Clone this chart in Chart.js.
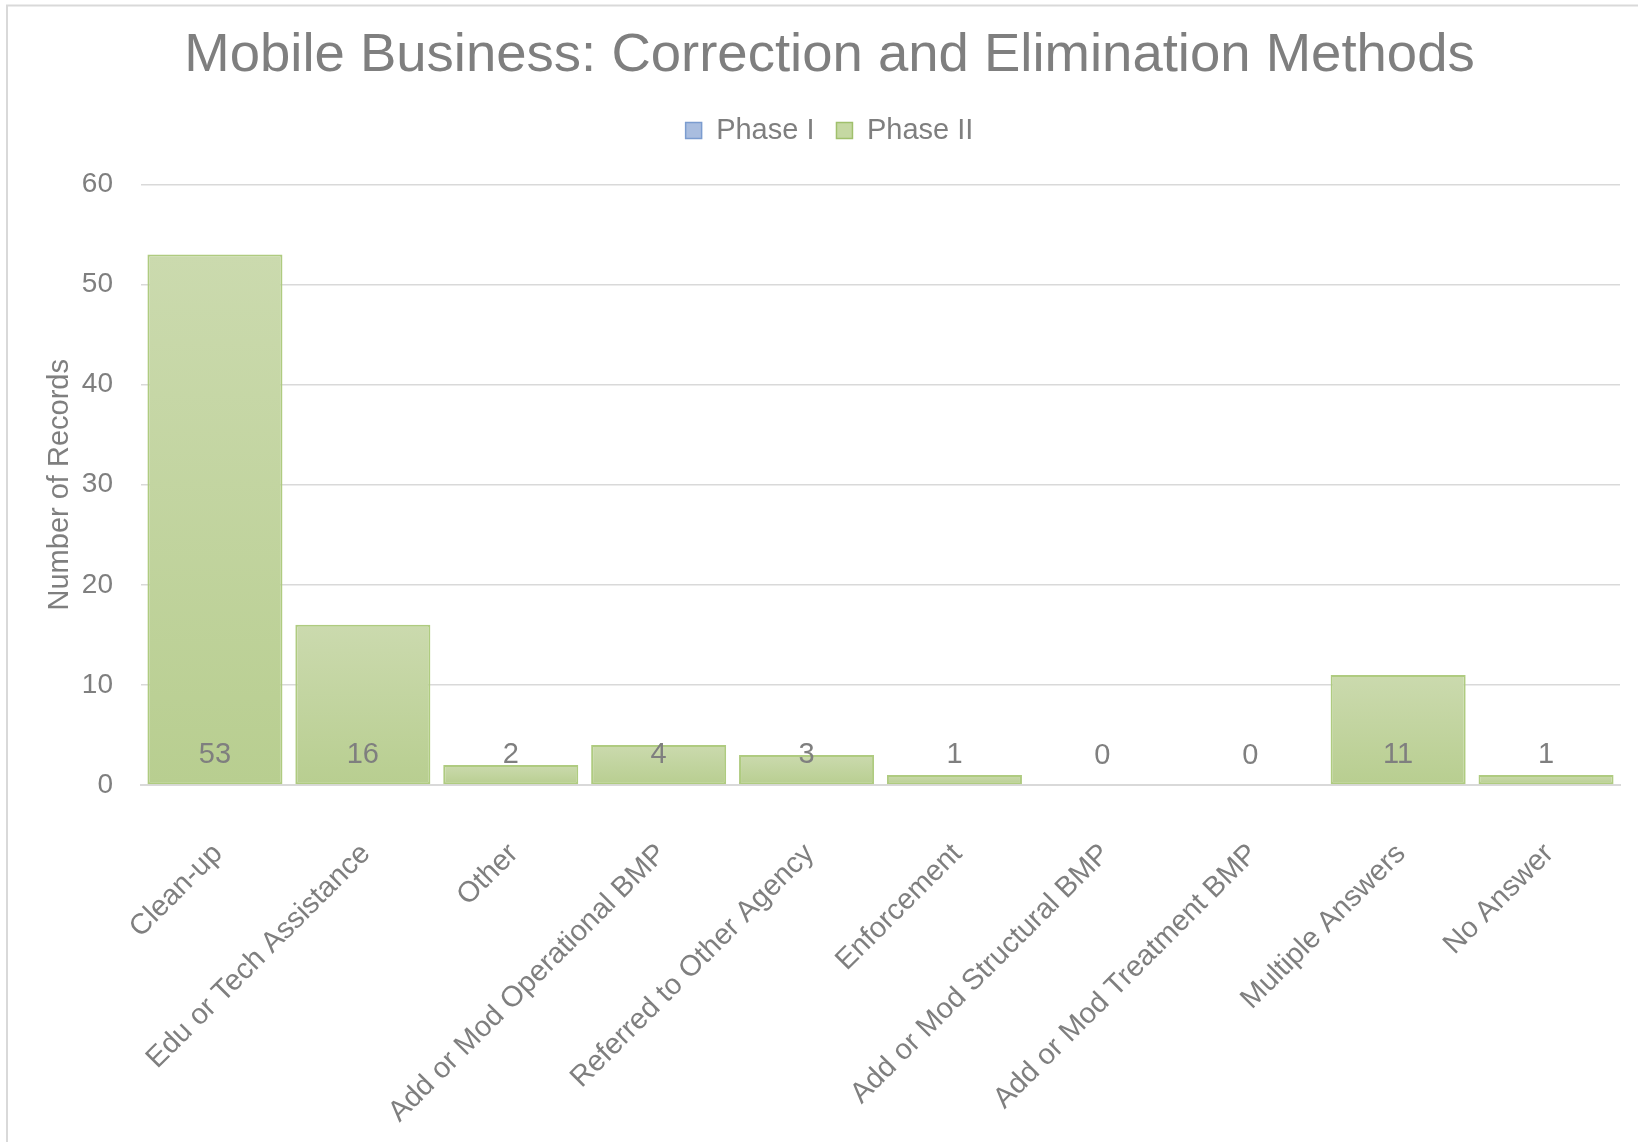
<!DOCTYPE html>
<html>
<head>
<meta charset="utf-8">
<title>Mobile Business: Correction and Elimination Methods</title>
<script src="https://cdn.jsdelivr.net/npm/chart.js@4.4.1/dist/chart.umd.min.js"></script>
<style>
  html, body { margin: 0; padding: 0; background: #fff; }
  canvas { display: block; }
</style>
</head>
<body>
<canvas id="myChart" width="1638" height="1142"></canvas>
<script>
// data

const categories = [
    'Clean-up', 'Edu or Tech Assistance', 'Other', 'Add or Mod Operational BMP',
    'Referred to Other Agency', 'Enforcement', 'Add or Mod Structural BMP',
    'Add or Mod Treatment BMP', 'Multiple Answers', 'No Answer'
];
const phase1 = [null, null, null, null, null, null, null, null, null, null]; // no records
const phase2 = [53, 16, 2, 4, 3, 1, 0, 0, 11, 1];
const yTicks = [0, 10, 20, 30, 40, 50, 60];

// styles

const grey = '#7f7f7f';
const gridGrey = '#d9d9d9';
const font = 'Liberation Sans, Arial, sans-serif';

// each bar gets its own light-to-dark gradient, top to base
function barFill(c) {
    const chart = c.chart;
    const y = chart.scales.y;
    if (!y || c.raw === null || c.raw === undefined) return '#c3d69b';
    const top = y.getPixelForValue(c.raw);
    const base = y.getPixelForValue(0);
    if (Math.abs(base - top) < 1) return '#c3d69b';
    const g = chart.ctx.createLinearGradient(0, top, 0, base);
    g.addColorStop(0, '#cbdaae');
    g.addColorStop(1, '#b8ce90');
    return g;
}

// thin frame round the chart
const framePlugin = {
    id: 'frame',
    beforeDraw(chart) {
        const ctx = chart.ctx;
        ctx.save();
        ctx.fillStyle = '#fff';
        ctx.fillRect(0, 0, chart.width, chart.height);
        ctx.strokeStyle = gridGrey;
        ctx.lineWidth = 2;
        ctx.strokeRect(7, 5.5, chart.width + 20, chart.height + 20);
        ctx.restore();
    }
};

// value labels sit just above each bar's base
const baseLabels = {
    id: 'baseLabels',
    afterDatasetsDraw(chart) {
        const ctx = chart.ctx;
        const meta = chart.getDatasetMeta(1);
        ctx.save();
        ctx.font = '29px ' + font;
        ctx.fillStyle = grey;
        ctx.textAlign = 'center';
        ctx.textBaseline = 'middle';
        meta.data.forEach((bar, i) => {
            ctx.fillText(String(phase2[i]), bar.x, bar.base - 29);
        });
        ctx.restore();
    }
};

const legendBoxes = [
    { text: 'Phase I', fillStyle: '#a9bddf', strokeStyle: '#7b9ccf' },
    { text: 'Phase II', fillStyle: '#c5d8a2', strokeStyle: '#a0c06c' }
];

const myChart = new Chart(document.getElementById('myChart').getContext('2d'), {
    type: 'bar',
    data: {
        labels: categories,
        datasets: [{
            label: 'Phase I',
            data: phase1,
            backgroundColor: '#a9bddf',
            borderColor: '#7b9ccf',
            borderWidth: 2
        }, {
            label: 'Phase II',
            data: phase2,
            backgroundColor: barFill,
            borderColor: '#afcb80',
            borderWidth: 2,
            borderSkipped: false
        }]
    },
    options: {
        responsive: false,
        animation: false,
        devicePixelRatio: 1,
        categoryPercentage: 1,
        barPercentage: 0.913,
        layout: { padding: { left: 39, right: 18, top: 0, bottom: 0 } },
        plugins: {
            title: {
                display: true,
                text: 'Mobile Business: Correction and Elimination Methods',
                color: grey,
                font: { family: font, size: 54.5, weight: 'normal', lineHeight: 1 },
                padding: { top: 29, bottom: 10.5 }
            },
            legend: {
                display: true,
                labels: {
                    color: grey,
                    font: { family: font, size: 29 },
                    boxWidth: 16,
                    boxHeight: 16,
                    padding: 22,
                    generateLabels: () => legendBoxes.map((b, i) => ({
                        text: b.text, fillStyle: b.fillStyle, strokeStyle: b.strokeStyle,
                        lineWidth: 1.5, fontColor: grey, datasetIndex: i, hidden: false
                    }))
                }
            },
            tooltip: { enabled: false }
        },
        scales: {
            x: {
                stacked: true,
                grid: { display: false },
                border: { color: gridGrey, width: 2 },
                ticks: {
                    color: grey,
                    font: { family: font, size: 29 },
                    minRotation: 45,
                    maxRotation: 45,
                    autoSkip: false,
                    padding: 44,
                    labelOffset: 3
                },
                // room under the plot for the slanted names
                afterFit: (scale) => { scale.paddingLeft = 0; scale.paddingRight = 0; scale.height = 357; }
            },
            y: {
                min: 0,
                max: 60,
                afterBuildTicks: (scale) => { scale.ticks = yTicks.map(v => ({ value: v })); },
                afterFit: (scale) => { scale.width = 102; },
                grid: { color: gridGrey, lineWidth: 1.5, drawTicks: false },
                border: { display: false },
                ticks: {
                    color: grey,
                    font: { family: font, size: 28 },
                    padding: 28
                },
                title: {
                    display: true,
                    text: 'Number of Records',
                    color: grey,
                    font: { family: font, size: 29 },
                    padding: { top: 4, bottom: 8 }
                }
            }
        }
    },
    plugins: [framePlugin, baseLabels]
});

// leave a gap between the legend row and the top gridline
const legendFit = myChart.legend.fit;
myChart.legend.fit = function () {
    legendFit.call(this);
    this.height = 90.5;
};
myChart.update();
</script>
</body>
</html>
